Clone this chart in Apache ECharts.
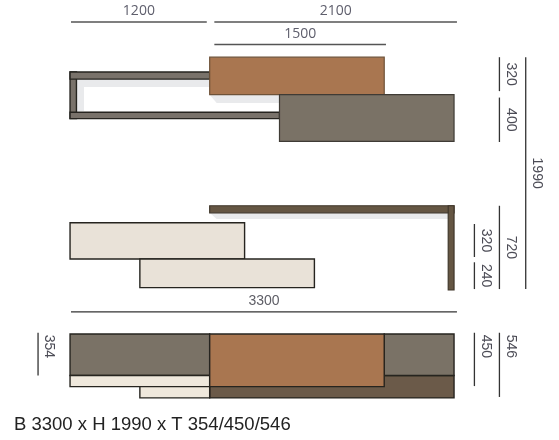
<!DOCTYPE html>
<html>
<head>
<meta charset="utf-8">
<title>Wall unit dimensions</title>
<script src="https://cdn.jsdelivr.net/npm/echarts@6/dist/echarts.min.js"></script>
<style>
  html, body { margin: 0; padding: 0; background: #fff; }
  #chart { width: 559px; height: 440px; }
</style>
</head>
<body>
<div id="chart"></div>
<script>
// everything below is in millimetres
// panels: [xFrom, xTo, zFrom, zTo] (front view) or [xFrom, xTo, depthFrom, depthTo] (plan)
const frameBars = [[0, 55, 1465, 1863], [0, 1200, 1803, 1863], [0, 1800, 1465, 1520]];
const copperBoxes = [[1200, 2700, 1670, 1990]];
const greyBoxes = [[1800, 3300, 1270, 1670]];
const shelfBars = [[1200, 3300, 660, 720], [3250, 3300, 0, 720]];
const creamBoxes = [[0, 1500, 265, 575], [600, 2100, 20, 265]];

const planDark = [[1200, 3300, 354, 546]];
const planGrey = [[0, 1200, 0, 354], [2700, 3300, 0, 354]];
const planCream = [[0, 1200, 354, 450], [600, 1200, 450, 546]];
const planCopper = [[1200, 2700, 0, 450]];

// soft shadows under the boxes: [x, z] outlines
const shadowOutlines = [
    [[60, 1803], [1200, 1803], [1200, 1735], [120, 1735], [120, 1530], [60, 1530]],
    [[1200, 1670], [1800, 1670], [1800, 1598], [1260, 1598]],
    [[1200, 660], [3250, 660], [3250, 607], [1260, 607]]
];

// dimension lines: [from, to, level, label]
const frontWidths = [[8, 1175, 2291, '1200'], [1240, 3325, 2291, '2100'], [1240, 2715, 2098, '1500']];
const planWidths = [[8, 3325, -190, '3300']];
const frontHeights = [
    [1700, 1990, 3690, '320'], [1265, 1645, 3690, '400'], [8, 1990, 3916, '1990'],
    [8, 720, 3690, '720'], [282, 564, 3475, '320'], [8, 237, 3475, '240']
];
const planDepths = [[-11, 355, -275, '354'], [-11, 445, 3475, '450'], [-11, 538, 3690, '546']];

const caption = 'B 3300 x H 1990 x T 354/450/546';

const LIGHT_FONT = '"Open Sans", sans-serif';
const PLAIN_FONT = '"Liberation Sans", Arial, sans-serif';

function renderPanel(params, api) {
    const p0 = api.coord([api.value(0), api.value(3)]);
    const p1 = api.coord([api.value(1), api.value(2)]);
    return {
        type: 'rect',
        shape: { x: p0[0], y: p0[1], width: p1[0] - p0[0], height: p1[1] - p0[1] },
        style: api.style()
    };
}

function panelSeries(name, data, gridIdx, color, borderColor, borderWidth) {
    return {
        name: name,
        type: 'custom',
        xAxisIndex: gridIdx,
        yAxisIndex: gridIdx,
        data: data,
        silent: true,
        itemStyle: { color: color, borderColor: borderColor, borderWidth: borderWidth },
        renderItem: renderPanel
    };
}

function widthDimSeries(name, data, gridIdx, lineWidth, lineColor, textColor, font) {
    return {
        name: name,
        type: 'custom',
        xAxisIndex: gridIdx,
        yAxisIndex: gridIdx,
        data: data,
        silent: true,
        renderItem: function (params, api) {
            const a = api.coord([api.value(0), api.value(2)]);
            const b = api.coord([api.value(1), api.value(2)]);
            return {
                type: 'group',
                children: [{
                    type: 'line',
                    shape: { x1: a[0], y1: a[1], x2: b[0], y2: b[1] },
                    style: { stroke: lineColor, lineWidth: lineWidth }
                }, {
                    type: 'text',
                    x: (a[0] + b[0]) / 2,
                    y: a[1] - 10.5,
                    style: { text: data[params.dataIndex][3], fill: textColor, font: '14px ' + font, align: 'center', verticalAlign: 'middle' }
                }]
            };
        }
    };
}

function heightDimSeries(name, data, gridIdx, atStart) {
    return {
        name: name,
        type: 'custom',
        xAxisIndex: gridIdx,
        yAxisIndex: gridIdx,
        data: data,
        silent: true,
        renderItem: function (params, api) {
            const a = api.coord([api.value(2), gridIdx === 0 ? api.value(1) : api.value(0)]);
            const b = api.coord([api.value(2), gridIdx === 0 ? api.value(0) : api.value(1)]);
            return {
                type: 'group',
                children: [{
                    type: 'line',
                    shape: { x1: a[0], y1: a[1], x2: b[0], y2: b[1] },
                    style: { stroke: '#333', lineWidth: 1.3 }
                }, {
                    type: 'text',
                    x: a[0] + 11,
                    y: atStart ? a[1] + 2 : (a[1] + b[1]) / 2,
                    rotation: -Math.PI / 2,
                    style: { text: data[params.dataIndex][3], fill: '#4c4c56', font: '14px ' + PLAIN_FONT, align: atStart ? 'left' : 'center', verticalAlign: 'middle' }
                }]
            };
        }
    };
}

const shadowSeries = {
    name: 'shadows',
    type: 'custom',
    xAxisIndex: 0,
    yAxisIndex: 0,
    data: shadowOutlines.map(function (outline) { return outline[0]; }),
    silent: true,
    renderItem: function (params, api) {
        return {
            type: 'polygon',
            shape: { points: shadowOutlines[params.dataIndex].map(function (pt) { return api.coord(pt); }) },
            style: { fill: '#e9eaec' }
        };
    }
};

const chart = echarts.init(document.getElementById('chart'), null, { renderer: 'canvas' });
chart.setOption({
    animation: false,
    backgroundColor: '#fff',
    title: {
        text: caption,
        left: 14,
        top: 415,
        padding: 0,
        textStyle: { fontFamily: PLAIN_FONT, fontSize: 18.5, fontWeight: 'normal', color: '#222' }
    },
    grid: [
        { left: 0, right: 0, top: 0, height: 290 },
        { left: 0, right: 0, top: 300, height: 140 }
    ],
    xAxis: [
        { type: 'value', gridIndex: 0, min: -602, max: 4202, show: false },
        { type: 'value', gridIndex: 1, min: -602, max: 4202, show: false }
    ],
    yAxis: [
        { type: 'value', gridIndex: 0, min: 0, max: 2479, show: false },
        { type: 'value', gridIndex: 1, min: -291, max: 906, inverse: true, show: false }
    ],
    series: [
        shadowSeries,
        panelSeries('frame', frameBars, 0, '#79726a', '#26241f', 1.4),
        panelSeries('copper', copperBoxes, 0, '#a97650', '#6e5238', 1.2),
        panelSeries('grey', greyBoxes, 0, '#7a7266', '#3f3b35', 1.2),
        panelSeries('shelf', shelfBars, 0, '#655643', '#40372b', 1.2),
        panelSeries('cream', creamBoxes, 0, '#e9e2d8', '#26241f', 1.4),
        panelSeries('plan dark', planDark, 1, '#6b5a49', '#26241f', 1.4),
        panelSeries('plan grey', planGrey, 1, '#7a7266', '#26241f', 1.4),
        panelSeries('plan cream', planCream, 1, '#efe8dc', '#26241f', 1.4),
        panelSeries('plan copper', planCopper, 1, '#a97650', '#26241f', 1.4),
        widthDimSeries('front widths', frontWidths, 0, 1.5, '#555', '#5e5e6c', LIGHT_FONT),
        widthDimSeries('plan widths', planWidths, 1, 1.2, '#333', '#5e5e66', PLAIN_FONT),
        heightDimSeries('front heights', frontHeights, 0, false),
        heightDimSeries('plan depths', planDepths, 1, true)
    ]
});
</script>
</body>
</html>
